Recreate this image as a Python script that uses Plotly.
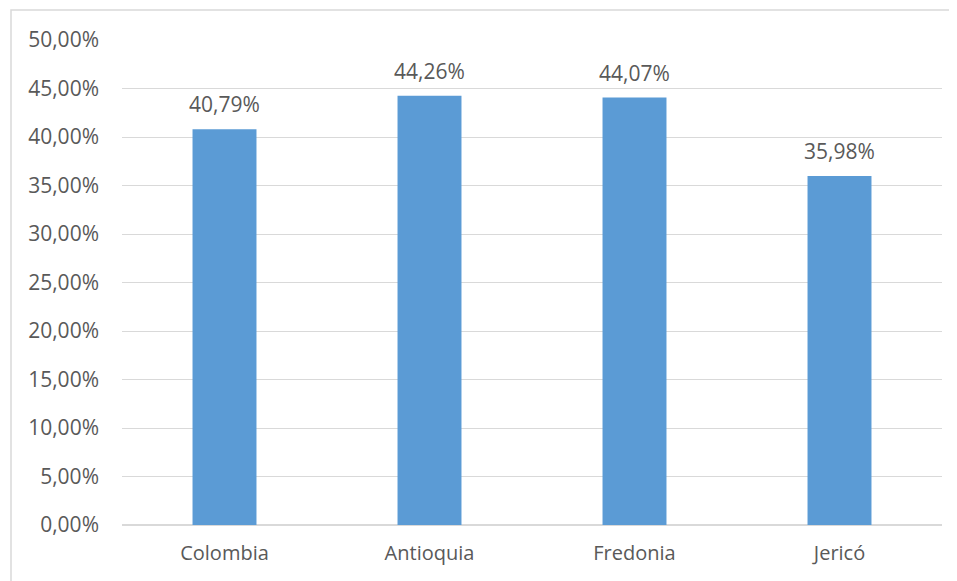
import plotly.graph_objects as go

categories = ["Colombia", "Antioquia", "Fredonia", "Jericó"]
values = [40.79, 44.26, 44.07, 35.98]
tick_values = [0, 5, 10, 15, 20, 25, 30, 35, 40, 45, 50]
tick_labels = [f"{v:.2f}%".replace(".", ",") for v in tick_values]
bar_labels = [f"{v:.2f}%".replace(".", ",") for v in values]

FONT = "Open Sans"
GRAY = "#595959"

fig = go.Figure(go.Bar(
    x=categories, y=values,
    marker=dict(color="#5b9bd5", line=dict(width=0)),
))

annotations = [
    dict(x=c, y=v, text=t, showarrow=False, xref="x", yref="y",
         yanchor="bottom", yshift=9,
         font=dict(family=FONT, size=21, color=GRAY))
    for c, v, t in zip(categories, values, bar_labels)
]

fig.update_layout(
    width=957, height=581,
    margin=dict(l=114, r=23, t=32, b=64),
    paper_bgcolor="white", plot_bgcolor="white",
    bargap=0.688,
    showlegend=False,
    font=dict(family=FONT, size=21, color=GRAY),
    annotations=annotations,
    xaxis=dict(showgrid=False, showline=False, ticks="", ticklabelstandoff=14,
               tickfont=dict(family=FONT, size=20, color=GRAY)),
    yaxis=dict(range=[0, 50], tickvals=tick_values, ticktext=tick_labels,
               showgrid=True, gridcolor="#d9d9d9", gridwidth=1, zeroline=True,
               zerolinecolor="#d9d9d9", zerolinewidth=1.5, showline=False,
               ticks="", ticklabelstandoff=22,
               tickfont=dict(family=FONT, size=21, color=GRAY)),
    shapes=[dict(type="rect", xref="paper", yref="paper",
                 x0=(3 - 114) / 820, x1=1.2, y0=-0.3, y1=1 + 30 / 485,
                 line=dict(color="#d9d9d9", width=1.5), layer="below")],
)

fig.write_html("out.html")
